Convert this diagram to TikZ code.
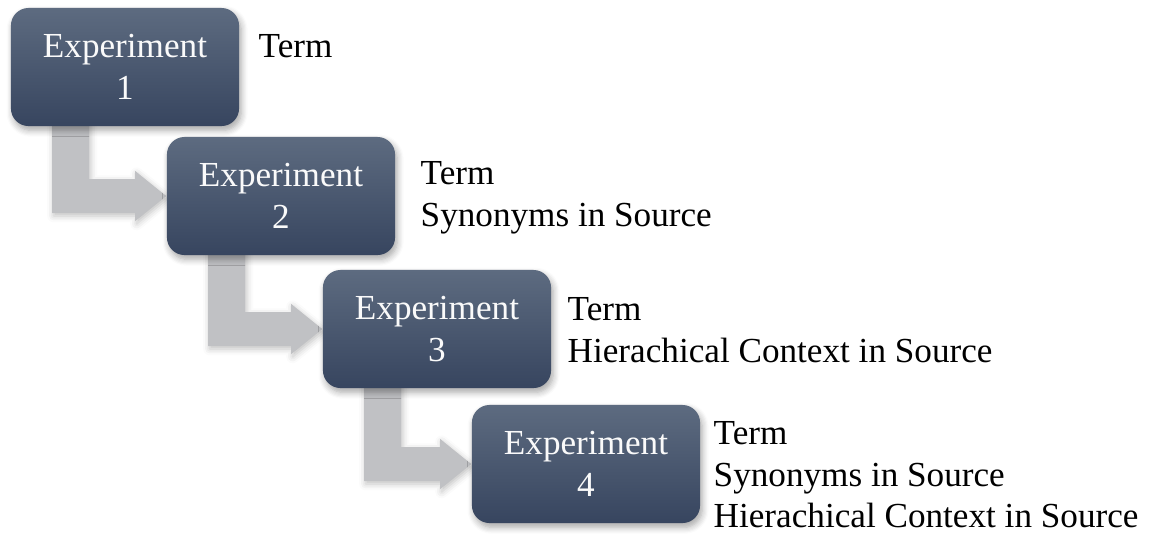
\documentclass[tikz,border=0pt]{standalone}
\usepackage{fontspec}
\setmainfont{Liberation Serif}
\usetikzlibrary{calc,backgrounds,shadows.blur}

\definecolor{boxtop}{HTML}{5D6B80}
\definecolor{boxbottom}{HTML}{37455F}
\definecolor{arrowgray}{HTML}{C0C1C4}

\tikzset{
  expbox/.style={
    rectangle, rounded corners=5pt,
    minimum width=2.28cm, minimum height=1.18cm, inner sep=0pt,
    top color=boxtop, bottom color=boxbottom, draw=none,
    text=white!96!gray, align=center,
    font=\fontsize{10}{12}\selectfont,
    blur shadow={shadow xshift=0.6pt, shadow yshift=-1.2pt, shadow opacity=35, shadow blur steps=6}
  },
  notes/.style={anchor=north west, align=left, inner sep=0pt,
    font=\fontsize{10}{11.8}\selectfont},
  elbow/.style={fill=arrowgray, draw=none,
    blur shadow={shadow xshift=0.4pt, shadow yshift=-0.8pt, shadow opacity=25, shadow blur steps=4}}
}

% gray elbow arrow leaving the bottom of #1 and pointing into the west side of #2
\newcommand\elbowarrow[2]{%
  \path[elbow]
    ($(#1.south west)+(42,-12)$) coordinate (a1)
    -- ($(#1.south west)+(79,-12)$)
    |- ($(#2.west)+(-31,-17)$)
    -- ($(#2.west)+(-31,-25)$)
    -- (#2.west)
    -- ($(#2.west)+(-31,25)$)
    -- ($(#2.west)+(-31,17)$)
    -| (a1) -- cycle;%
}

\begin{document}
\begin{tikzpicture}[x=0.01cm, y=-0.01cm]
  \useasboundingbox (0,0) rectangle (1157,538);

  \node[expbox] (e1) at (125,67)  {Experiment\\1};
  \node[expbox] (e2) at (281,196) {Experiment\\2};
  \node[expbox] (e3) at (437,329) {Experiment\\3};
  \node[expbox] (e4) at (586,464) {Experiment\\4};

  \begin{pgfonlayer}{background}
    \elbowarrow{e1}{e2}
    \elbowarrow{e2}{e3}
    \elbowarrow{e3}{e4}
  \end{pgfonlayer}

  \node[notes] (n1) at (258,34)  {Term};
  \node[notes] (n2) at (420,161) {Term\\Synonyms in Source};
  \node[notes] (n3) at (567,297) {Term\\Hierachical Context in Source};
  \node[notes] (n4) at (713,421) {Term\\Synonyms in Source\\Hierachical Context in Source};
\end{tikzpicture}
\end{document}
